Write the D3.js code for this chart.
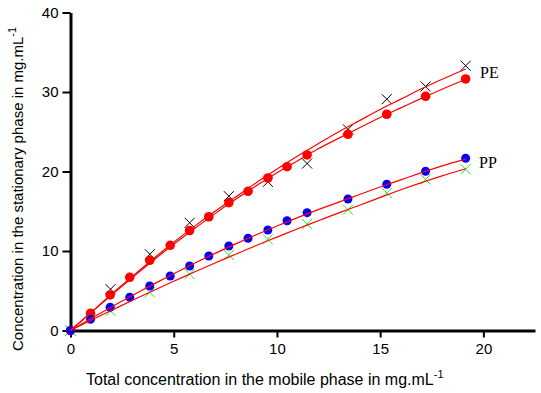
<!DOCTYPE html>
<html>
<head>
<meta charset="utf-8">
<script src="https://cdn.jsdelivr.net/npm/d3@7"></script>
<style>
body { margin: 0; background: #fff; }
svg { display: block; }
</style>
</head>
<body>
<svg></svg>
<script>
var width = 541;
var height = 393;

// x of the experimental points
var circleX = [0, 0.97, 1.92, 2.87, 3.84, 4.83, 5.77, 6.7, 7.67, 8.6, 9.56, 10.49, 11.46, 13.44, 15.32, 17.2, 19.14];
var crossX = [0, 1.94, 3.84, 5.77, 7.67, 9.56, 11.46, 13.44, 15.32, 17.2, 19.14];

// PE
var peCircleY = [0, 2.16, 4.47, 6.69, 8.83, 10.72, 12.58, 14.31, 16.08, 17.51, 19.18, 20.6, 22.08, 24.68, 27.2, 29.46, 31.64];
var peCrossY = [0, 5.2, 9.6, 13.55, 16.9, 18.7, 21.0, 25.3, 29.1, 30.7, 33.3];

// PP
var ppCircleY = [0, 1.41, 2.92, 4.18, 5.6, 6.86, 8.11, 9.37, 10.63, 11.6, 12.64, 13.81, 14.82, 16.54, 18.39, 20.03, 21.66];
var ppCrossY = [0, 2.45, 4.8, 7.1, 9.5, 11.47, 13.4, 15.2, 17.3, 19.0, 20.28];

// fitted curves
var fitX = [0, 1, 2, 3, 4, 5, 6, 7, 8, 9, 10, 11, 12, 13, 14, 15, 16, 17, 18, 19.15];
var peCrossFit = [0, 2.3, 4.6, 6.8, 9.0, 11.1, 13.1, 15.0, 16.8, 18.6, 20.3, 21.95, 23.5, 25.0, 26.4, 27.8, 29.1, 30.4, 31.6, 32.9];
var peCircleFit = [0, 2.25, 4.5, 6.65, 8.8, 10.85, 12.8, 14.7, 16.5, 18.2, 19.85, 21.35, 22.85, 24.2, 25.5, 26.8, 28.0, 29.2, 30.35, 31.6];
var ppCircleFit = [0, 1.5, 3.0, 4.4, 5.8, 7.15, 8.45, 9.7, 10.9, 12.05, 13.15, 14.2, 15.2, 16.15, 17.1, 18.05, 18.95, 19.85, 20.7, 21.55];
var ppCrossFit = [0, 1.3, 2.55, 3.8, 5.0, 6.2, 7.35, 8.5, 9.6, 10.7, 11.75, 12.8, 13.8, 14.8, 15.75, 16.75, 17.7, 18.6, 19.45, 20.35];

var xMajor = [0, 5, 10, 15, 20];
var xMinor = [2.5, 7.5, 12.5, 17.5, 22.5];
var yMajor = [0, 10, 20, 30, 40];
var yMinor = [5, 15, 25, 35];

var x = d3.scaleLinear().domain([0, 22.5]).range([70.5, 535]);
var y = d3.scaleLinear().domain([0, 40]).range([330.5, 12.5]);

var svg = d3.select('svg')
	.attr('width', width)
	.attr('height', height);

function pairs(xs, ys) {
	return xs.map(function (v, i) { return [v, ys[i]]; });
}

// axes
var font = 'Liberation Sans, Arial, sans-serif';

var gx = svg.append('g').attr('transform', 'translate(0,' + y(0) + ')');
gx.call(d3.axisBottom(x).tickValues(xMinor).tickSize(5).tickSizeOuter(0).tickFormat(''));
gx.call(d3.axisBottom(x).tickValues(xMajor).tickSize(7).tickSizeOuter(0).tickPadding(6).tickFormat(d3.format('d')));

var gy = svg.append('g').attr('transform', 'translate(' + x(0) + ',0)');
gy.call(d3.axisLeft(y).tickValues(yMinor).tickSize(5).tickSizeOuter(0).tickFormat(''));
gy.call(d3.axisLeft(y).tickValues(yMajor).tickSize(8).tickSizeOuter(0).tickPadding(4).tickFormat(d3.format('d')));

svg.selectAll('.domain').attr('stroke', '#000').attr('stroke-width', 3);
svg.selectAll('.tick line').attr('stroke', '#000').attr('stroke-width', 2);
svg.selectAll('.tick text')
	.attr('fill', '#000')
	.style('font-family', font)
	.style('font-size', '15px');

// axis titles
var xt = svg.append('text')
	.attr('x', 86)
	.attr('y', 385)
	.style('font-family', font)
	.style('font-size', '16px');
xt.append('tspan').text('Total concentration in the mobile phase in mg.mL');
xt.append('tspan').attr('dy', -7).style('font-size', '11px').text('-1');

var yt = svg.append('text')
	.attr('transform', 'translate(23,351) rotate(-90)')
	.style('font-family', font)
	.style('font-size', '15px');
yt.append('tspan').text('Concentration in the stationary phase in mg.mL');
yt.append('tspan').attr('dy', -7).style('font-size', '11px').text('-1');

// markers
function crosses(xs, ys, color) {
	var g = svg.append('g').attr('stroke', color).attr('stroke-width', 1).attr('fill', 'none');
	g.selectAll('path')
		.data(pairs(xs, ys))
		.enter()
		.append('path')
		.attr('d', function (d) {
			var cx = x(d[0]), cy = y(d[1]), s = 5;
			return 'M' + (cx - s) + ',' + (cy - s) + 'L' + (cx + s) + ',' + (cy + s) +
				'M' + (cx - s) + ',' + (cy + s) + 'L' + (cx + s) + ',' + (cy - s);
		});
}

function dots(xs, ys, color, r) {
	svg.append('g')
		.selectAll('circle')
		.data(pairs(xs, ys))
		.enter()
		.append('circle')
		.attr('cx', function (d) { return x(d[0]); })
		.attr('cy', function (d) { return y(d[1]); })
		.attr('r', r)
		.attr('fill', color);
}

crosses(crossX, peCrossY, '#000');
crosses(crossX, ppCrossY, '#22ee22');
dots(circleX, peCircleY, '#ff0000', 4.8);
dots(circleX, ppCircleY, '#0000ff', 4.5);

// fitted lines
var line = d3.line()
	.x(function (d) { return x(d[0]); })
	.y(function (d) { return y(d[1]); })
	.curve(d3.curveMonotoneX);

[peCrossFit, peCircleFit, ppCircleFit, ppCrossFit].forEach(function (fit) {
	svg.append('path')
		.datum(pairs(fitX, fit))
		.attr('d', line)
		.attr('fill', 'none')
		.attr('stroke', '#ff0000')
		.attr('stroke-width', 1.2);
});

// series labels
svg.append('text')
	.attr('x', 480).attr('y', 78)
	.style('font-family', 'Liberation Serif, Times New Roman, serif')
	.style('font-size', '16px')
	.text('PE');
svg.append('text')
	.attr('x', 479).attr('y', 168)
	.style('font-family', 'Liberation Serif, Times New Roman, serif')
	.style('font-size', '16px')
	.text('PP');
</script>
</body>
</html>
